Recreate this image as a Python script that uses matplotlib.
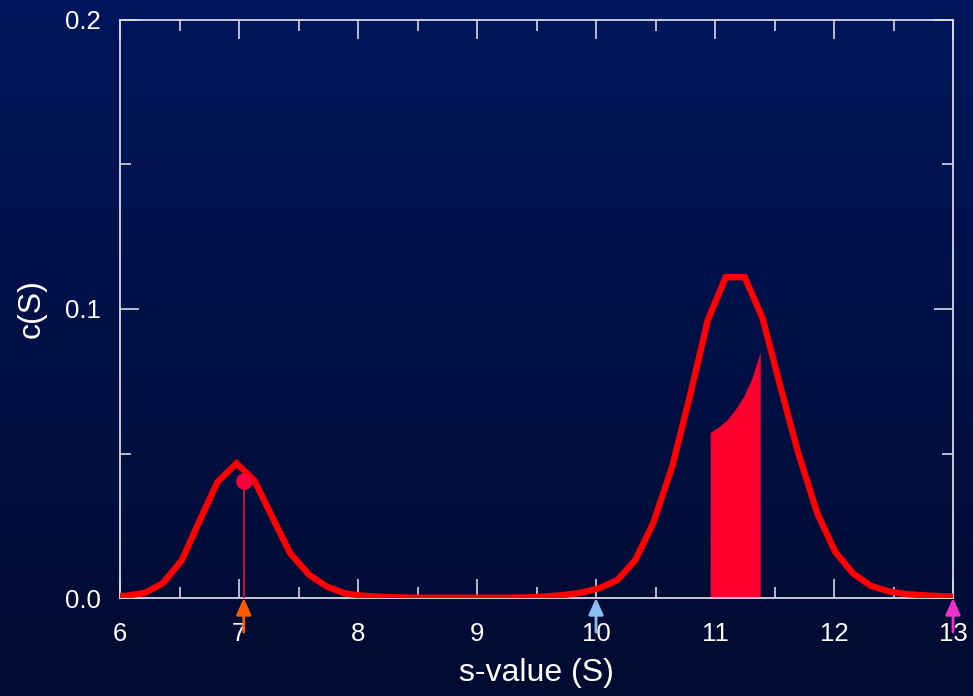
import numpy as np
import matplotlib
matplotlib.use("Agg")
import matplotlib.pyplot as plt
from matplotlib.ticker import MultipleLocator
from matplotlib.colors import LinearSegmentedColormap

plt.rcParams['font.family'] = ['Liberation Sans', 'DejaVu Sans']

# --- data ---
s_values = [6.00, 6.06, 6.21, 6.36, 6.52, 6.67, 6.82, 6.98, 7.13, 7.28, 7.43, 7.59,
            7.74, 7.89, 8.04, 8.20, 8.35, 8.50, 8.65, 8.81, 8.96, 9.11, 9.26, 9.42,
            9.57, 9.72, 9.87, 10.03, 10.18, 10.33, 10.48, 10.64, 10.79, 10.94, 11.09,
            11.25, 11.40, 11.55, 11.70, 11.86, 12.01, 12.16, 12.31, 12.47, 12.62,
            12.77, 12.92, 13.08]
c_values = [0.0007, 0.0008, 0.0018, 0.0051, 0.0131, 0.0268, 0.0402, 0.0466, 0.0406,
            0.0280, 0.0155, 0.0080, 0.0039, 0.0016, 0.0008, 0.0004, 0.0002, 0.0001,
            0.0001, 0.0001, 0.0001, 0.0001, 0.0001, 0.0002, 0.0005, 0.0010, 0.0018,
            0.0034, 0.0062, 0.0131, 0.0258, 0.0454, 0.0700, 0.0962, 0.1110, 0.1110,
            0.0968, 0.0731, 0.0501, 0.0293, 0.0160, 0.0085, 0.0042, 0.0022, 0.0013,
            0.0009, 0.0006, 0.0004]

# shaded band under the big peak
band_s = [10.96, 11.03, 11.10, 11.17, 11.24, 11.31, 11.38]
band_c = [0.0573, 0.0592, 0.0616, 0.0652, 0.0697, 0.0760, 0.0852]

# single marked point
peak_s = 7.04
peak_c = 0.0406

# arrows under the axis
arrow_s = [7.04, 10.0, 13.0]
arrow_colors = ['#ff5a00', '#8cc0f0', '#ee30c8']

fig = plt.figure(figsize=(9.73, 6.96), dpi=100)

# background gradient
bg = fig.add_axes([0, 0, 1, 1], zorder=-10)
cmap = LinearSegmentedColormap.from_list('bg', ['#000b30', '#00165c'])
bg.imshow(np.linspace(0, 1, 256).reshape(-1, 1), aspect='auto', cmap=cmap,
          origin='lower', extent=[0, 1, 0, 1])
bg.axis('off')

ax = fig.add_axes([120 / 973, 1 - 598 / 696, 833 / 973, 578 / 696])
ax.set_facecolor('none')

ax.fill_between(band_s, 0, band_c, color='#ff002e', linewidth=0, zorder=2)
ax.plot(s_values, c_values, color='#ff0000', linewidth=4.6, zorder=3,
        solid_joinstyle='miter', clip_on=True)
ax.plot([peak_s, peak_s], [0, peak_c], color='#d0103c', linewidth=1.3, zorder=4)
ax.plot(peak_s, peak_c, 'o', color='#f5003a', markersize=11, zorder=5)

for xs, col in zip(arrow_s, arrow_colors):
    ax.annotate('', xy=(xs, 0), xytext=(xs, -0.0118),
                arrowprops=dict(arrowstyle='-|>,head_length=1.0,head_width=0.45',
                                color=col, lw=2, shrinkA=0, shrinkB=0),
                annotation_clip=False, zorder=6)

ax.set_xlim(6, 13)
ax.set_ylim(0, 0.2)
ax.xaxis.set_major_locator(MultipleLocator(1))
ax.xaxis.set_minor_locator(MultipleLocator(0.5))
ax.yaxis.set_major_locator(MultipleLocator(0.1))
ax.yaxis.set_minor_locator(MultipleLocator(0.05))
ax.yaxis.set_major_formatter(matplotlib.ticker.FormatStrFormatter('%.1f'))

frame = '#d8d8e4'
for sp in ax.spines.values():
    sp.set_color(frame)
    sp.set_linewidth(1.3)
ax.tick_params(which='both', direction='in', top=True, right=True,
               colors=frame, labelcolor='white', labelsize=18.5, width=1.2)
ax.tick_params(which='major', length=14)
ax.tick_params(which='minor', length=8)
ax.tick_params(axis='x', pad=17)
ax.tick_params(axis='y', pad=14)

ax.set_xlabel('s-value (S)', color='white', fontsize=23, labelpad=9)
ax.set_ylabel('c(S)', color='white', fontsize=23, labelpad=13)

fig.savefig('out.png', dpi=100, facecolor='#000b30')
